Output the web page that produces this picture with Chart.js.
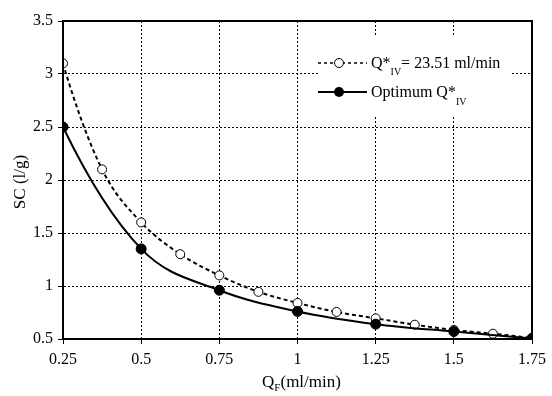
<!DOCTYPE html>
<html>
<head>
<meta charset="utf-8">
<script src="https://cdn.jsdelivr.net/npm/chart.js@4/dist/chart.umd.min.js"></script>
<style>
html,body{margin:0;padding:0;background:#fff;}
#wrap{width:552px;height:396px;position:relative;}
</style>
</head>
<body>
<div id="wrap"><canvas id="c" width="552" height="396"></canvas></div>
<script>
// Data
const qfOpen = [0.25, 0.375, 0.5, 0.625, 0.75, 0.875, 1.0, 1.125, 1.25, 1.375, 1.5, 1.625, 1.75];
const scOpen = [3.1, 2.1, 1.6, 1.3, 1.1, 0.945, 0.84, 0.755, 0.695, 0.635, 0.585, 0.55, 0.51];
const qfOpt  = [0.25, 0.5, 0.75, 1.0, 1.25, 1.5, 1.75];
const scOpt  = [2.5, 1.35, 0.96, 0.76, 0.64, 0.57, 0.505];
const xTicks = [0.25, 0.5, 0.75, 1, 1.25, 1.5, 1.75];
const yTicks = [0.5, 1, 1.5, 2, 2.5, 3, 3.5];
const legendLabels = [
  {main: 'Q*', sub: 'IV', rest: '= 23.51 ml/min'},
  {main: 'Optimum Q*', sub: 'IV', rest: ''}
];
const xTitle = {main: 'Q', sub: 'F', rest: '(ml/min)'};
const yTitle = 'SC (l/g)';

const FONT = 'Liberation Serif';

const openPts = qfOpen.map((x, i) => ({x: x, y: scOpen[i]}));
const optPts = qfOpt.map((x, i) => ({x: x, y: scOpt[i]}));

function drawSubText(ctx, x, y, t, size, subSize, subDrop) {
  ctx.font = size + 'px "' + FONT + '"';
  ctx.fillText(t.main, x, y);
  let w = ctx.measureText(t.main).width;
  ctx.font = subSize + 'px "' + FONT + '"';
  ctx.fillText(t.sub, x + w, y + subDrop);
  let w2 = ctx.measureText(t.sub).width;
  ctx.font = size + 'px "' + FONT + '"';
  if (t.rest) ctx.fillText(t.rest, x + w + w2, y);
  return w + w2 + (t.rest ? ctx.measureText(t.rest).width : 0);
}

// Smoother start of each curve: endpoint tangent from the first three points
const curvePlugin = {
  id: 'curveStart',
  beforeDatasetDraw(chart, args) {
    const meta = args.meta;
    const line = meta.dataset;
    if (!line || !line.updateControlPoints) return;
    line.updateControlPoints(chart.chartArea, 'x');
    const p = line.points;
    if (!p || p.length < 3) return;
    const d0 = (p[1].y - p[0].y) / (p[1].x - p[0].x);
    const d1 = (p[2].y - p[1].y) / (p[2].x - p[1].x);
    const m0 = (3 * d0 - d1) / 2;
    const dx = (p[1].x - p[0].x) / 3;
    p[0].cp2x = p[0].x + dx;
    p[0].cp2y = p[0].y + m0 * dx;
  }
};

const framePlugin = {
  id: 'frame',
  afterDatasetsDraw(chart) {
    const ctx = chart.ctx;
    const a = chart.chartArea;
    ctx.save();
    // legend box
    ctx.fillStyle = '#fff';
    ctx.fillRect(320, 35, 190, 82);
    // legend row 1
    ctx.strokeStyle = '#000';
    ctx.lineWidth = 1.5;
    ctx.setLineDash([3, 3]);
    ctx.beginPath(); ctx.moveTo(318, 63); ctx.lineTo(367, 63); ctx.stroke();
    ctx.setLineDash([]);
    ctx.beginPath(); ctx.arc(339, 63, 4.5, 0, Math.PI * 2);
    ctx.fillStyle = '#fff'; ctx.fill(); ctx.lineWidth = 1; ctx.stroke();
    // legend row 2
    ctx.lineWidth = 2;
    ctx.beginPath(); ctx.moveTo(318, 92); ctx.lineTo(367, 92); ctx.stroke();
    ctx.beginPath(); ctx.arc(339, 92, 5, 0, Math.PI * 2);
    ctx.fillStyle = '#000'; ctx.fill();
    ctx.fillStyle = '#000';
    ctx.textBaseline = 'alphabetic';
    ctx.textAlign = 'left';
    drawSubText(ctx, 371, 68, legendLabels[0], 16, 10, 7);
    drawSubText(ctx, 371, 97, legendLabels[1], 16, 10, 8);
    // frame
    ctx.strokeStyle = '#000';
    ctx.lineWidth = 2;
    ctx.strokeRect(a.left, a.top, a.right - a.left, a.bottom - a.top);
    // x title
    const t = xTitle;
    ctx.font = '17px "' + FONT + '"';
    const w1 = ctx.measureText(t.main).width;
    ctx.font = '11px "' + FONT + '"';
    const w2 = ctx.measureText(t.sub).width;
    ctx.font = '17px "' + FONT + '"';
    const w3 = ctx.measureText(t.rest).width;
    const cx = (a.left + a.right) / 2 + 4;
    drawSubText(ctx, cx - (w1 + w2 + w3) / 2, 387, t, 17, 11, 4);
    // y title
    ctx.save();
    ctx.translate(21, (a.top + a.bottom) / 2 + 2);
    ctx.rotate(-Math.PI / 2);
    ctx.textAlign = 'center';
    ctx.textBaseline = 'middle';
    ctx.font = '17px "' + FONT + '"';
    ctx.fillText(yTitle, 0, 0);
    ctx.restore();
    ctx.restore();
  }
};

new Chart(document.getElementById('c'), {
  type: 'line',
  data: {
    datasets: [
      {
        label: 'Optimum Q*IV',
        data: optPts,
        borderColor: '#000',
        borderWidth: 2,
        pointRadius: 5,
        pointBackgroundColor: '#000',
        pointBorderColor: '#000',
        pointBorderWidth: 1,
        cubicInterpolationMode: 'monotone',
        fill: false
      },
      {
        label: 'Q*IV = 23.51 ml/min',
        data: openPts,
        borderColor: '#000',
        borderWidth: 2,
        borderDash: [4, 3],
        pointRadius: 4.5,
        pointBackgroundColor: '#fff',
        pointBorderColor: '#000',
        pointBorderWidth: 1,
        cubicInterpolationMode: 'monotone',
        fill: false
      }
    ]
  },
  options: {
    responsive: false,
    animation: false,
    devicePixelRatio: 1,
    layout: {padding: {top: 21, right: 17, left: 0, bottom: 0}},
    plugins: {legend: {display: false}, tooltip: {enabled: false}},
    scales: {
      x: {
        type: 'linear',
        min: 0.25, max: 1.75,
        afterBuildTicks(scale) { scale.ticks = xTicks.map(v => ({value: v})); },
        afterFit(scale) { scale.height = 57; },
        grid: {color: '#000', lineWidth: 1, tickLength: 5, tickColor: '#000', tickWidth: 1},
        border: {display: true, color: '#000', width: 2, dash: [2, 2]},
        ticks: {
          color: '#000', padding: 6, maxRotation: 0, autoSkip: false,
          font: {family: FONT, size: 16},
          callback: v => String(v)
        }
      },
      y: {
        type: 'linear',
        min: 0.5, max: 3.5,
        afterBuildTicks(scale) { scale.ticks = yTicks.map(v => ({value: v})); },
        afterFit(scale) { scale.width = 63; },
        grid: {color: '#000', lineWidth: 1, tickLength: 5, tickColor: '#000', tickWidth: 1},
        border: {display: true, color: '#000', width: 2, dash: [2, 2]},
        ticks: {
          color: '#000', padding: 5,
          font: {family: FONT, size: 16},
          callback: v => String(v)
        }
      }
    }
  },
  plugins: [curvePlugin, framePlugin]
});
</script>
</body>
</html>
